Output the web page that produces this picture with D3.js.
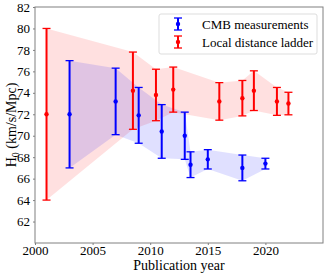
<!DOCTYPE html>
<html>
<head>
<meta charset="utf-8">
<script src="https://cdn.jsdelivr.net/npm/d3@7"></script>
<style>
  body { margin: 0; background: white; }
  svg text { font-family: "Liberation Serif", "Times New Roman", Times, "DejaVu Serif", serif !important; }
</style>
</head>
<body>
<div id="chart"></div>
<script>
// CMB measurements
const cmbYears = [2003, 2007, 2009, 2011, 2013, 2013.5, 2015, 2018, 2020];
const cmbH0 = [72.0, 73.2, 71.9, 70.4, 70.0, 67.3, 67.8, 67.0, 67.4];
const cmbErr = [5.0, 3.1, 2.6, 2.5, 2.2, 1.2, 0.9, 1.2, 0.5];

// Local distance ladder
const localYears = [2001, 2008.5, 2010.5, 2012, 2016, 2018, 2019, 2021, 2022];
const localH0 = [72.0, 74.2, 73.8, 74.3, 73.2, 73.5, 74.2, 73.2, 73.0];
const localErr = [8.0, 3.6, 2.4, 2.1, 1.75, 1.65, 1.85, 1.3, 1.05];

const xTicks = [2000, 2005, 2010, 2015, 2020];
const yTicks = [62, 64, 66, 68, 70, 72, 74, 76, 78, 80, 82];

const W = 327, H = 275;
const margin = { top: 7, right: 4, bottom: 32, left: 35 };

const svg = d3.select("#chart").append("svg")
    .attr("width", W)
    .attr("height", H);

const x = d3.scaleLinear().domain([2000, 2025]).range([margin.left, W - margin.right]);
const y = d3.scaleLinear().domain([60, 82]).range([H - margin.bottom, margin.top]);

const makeSeries = (years, vals, errs) =>
    years.map((yr, i) => ({ year: yr, v: vals[i], e: errs[i] }));

const series = [
    { name: "CMB measurements", color: "blue", data: makeSeries(cmbYears, cmbH0, cmbErr) },
    { name: "Local distance ladder", color: "red", data: makeSeries(localYears, localH0, localErr) }
];

// shaded bands (draw local first so CMB sits on top)
const area = d3.area()
    .x(d => x(d.year))
    .y0(d => y(d.v - d.e))
    .y1(d => y(d.v + d.e));

[series[1], series[0]].forEach(s => {
    svg.append("path")
        .datum(s.data)
        .attr("d", area)
        .attr("fill", s.color)
        .attr("fill-opacity", 0.12);
});

// error bars
series.forEach(s => {
    const g = svg.append("g");
    const cap = 4;
    s.data.forEach(d => {
        g.append("line")
            .attr("x1", x(d.year)).attr("x2", x(d.year))
            .attr("y1", y(d.v - d.e)).attr("y2", y(d.v + d.e))
            .attr("stroke", s.color).attr("stroke-width", 2);
        [d.v - d.e, d.v + d.e].forEach(val => {
            g.append("line")
                .attr("x1", x(d.year) - cap).attr("x2", x(d.year) + cap)
                .attr("y1", y(val)).attr("y2", y(val))
                .attr("stroke", s.color).attr("stroke-width", 1.3);
        });
        g.append("circle")
            .attr("cx", x(d.year)).attr("cy", y(d.v))
            .attr("r", 2.2)
            .attr("fill", s.color);
    });
});

// axes
const xAxis = svg.append("g")
    .attr("transform", `translate(0,${H - margin.bottom})`)
    .call(d3.axisBottom(x).tickValues(xTicks).tickFormat(d3.format("d")).tickSize(2).tickPadding(1));
const yAxis = svg.append("g")
    .attr("transform", `translate(${margin.left},0)`)
    .call(d3.axisLeft(y).tickValues(yTicks).tickSize(2).tickPadding(3));

[xAxis, yAxis].forEach(a => {
    a.attr("font-family", null);
    a.select(".domain").remove();
    a.selectAll(".tick line").attr("stroke", "#808080");
    a.selectAll("text")
        .attr("font-size", 13)
        .attr("fill", "black");
});

// frame
svg.append("rect")
    .attr("x", margin.left).attr("y", margin.top)
    .attr("width", W - margin.right - margin.left)
    .attr("height", H - margin.bottom - margin.top)
    .attr("fill", "none")
    .attr("stroke", "#808080")
    .attr("stroke-width", 1);

// axis labels
svg.append("text")
    .attr("x", (margin.left + W - margin.right) / 2)
    .attr("y", 270)
    .attr("text-anchor", "middle")
    .attr("font-size", 14)
    .text("Publication year");

const yl = svg.append("text")
    .attr("transform", `translate(16,${(margin.top + H - margin.bottom) / 2}) rotate(-90)`)
    .attr("text-anchor", "middle")
    .attr("font-size", 14);
yl.append("tspan").text("H");
yl.append("tspan").attr("font-size", 10).attr("dy", 3).text("0");
yl.append("tspan").attr("dy", -3).text(" (km/s/Mpc)");

// legend
const legend = svg.append("g").attr("transform", "translate(159,14)");
legend.append("rect")
    .attr("width", 158).attr("height", 40)
    .attr("rx", 2)
    .attr("fill", "white").attr("fill-opacity", 0.8)
    .attr("stroke", "#dddddd");
series.forEach((s, i) => {
    const cy = 10 + i * 18;
    const lx = 19;
    legend.append("line")
        .attr("x1", lx).attr("x2", lx).attr("y1", cy - 6).attr("y2", cy + 6)
        .attr("stroke", s.color).attr("stroke-width", 2);
    [cy - 6, cy + 6].forEach(yy => legend.append("line")
        .attr("x1", lx - 4).attr("x2", lx + 4).attr("y1", yy).attr("y2", yy)
        .attr("stroke", s.color).attr("stroke-width", 1.3));
    legend.append("circle").attr("cx", lx).attr("cy", cy).attr("r", 2.2).attr("fill", s.color);
    legend.append("text")
        .attr("x", 43).attr("y", cy + 4.5)
        .attr("font-size", 13)
        .text(s.name);
});
</script>
</body>
</html>
